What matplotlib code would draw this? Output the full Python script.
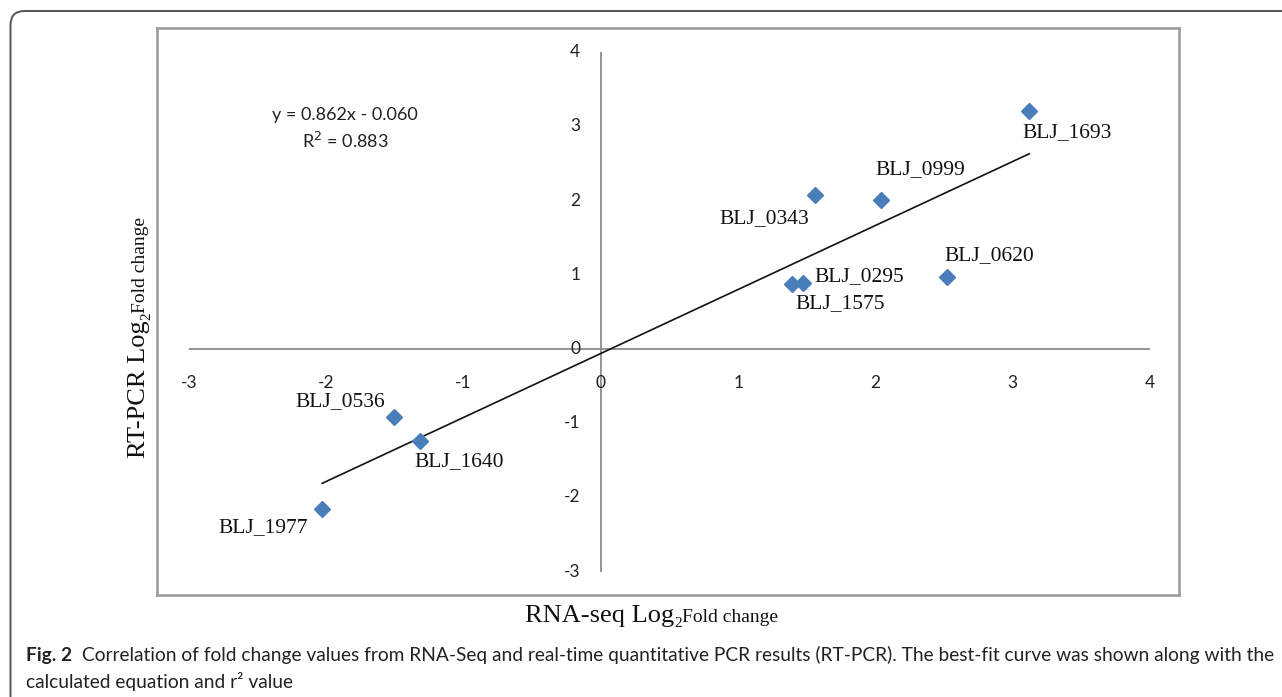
import matplotlib
matplotlib.use("Agg")
import matplotlib.pyplot as plt
from matplotlib.patches import FancyBboxPatch
import numpy as np

# gene points (RNA-seq log2FC, RT-PCR log2FC)
genes = ['BLJ_1693', 'BLJ_0999', 'BLJ_0343', 'BLJ_0620', 'BLJ_0295',
         'BLJ_1575', 'BLJ_0536', 'BLJ_1640', 'BLJ_1977']
rnaseq = [3.12, 2.04, 1.56, 2.52, 1.47, 1.39, -1.51, -1.32, -2.03]
rtpcr = [3.21, 2.01, 2.07, 0.97, 0.89, 0.88, -0.91, -1.24, -2.16]

# best-fit line as printed on the chart
slope = 0.862
intercept = -0.060
r2 = 0.883

ticks = [-3, -2, -1, 0, 1, 2, 3, 4]

# label offsets (pixels, from marker to left edge / text centre)
label_dx = [-7, -6, -96, -2, 12, 4, -98, -5, -104]
label_dy = [-22, 30, -23, 21, 6, -20, 15, -21, -18]

W, H = 1282, 697
fig = plt.figure(figsize=(W / 100, H / 100), dpi=100)

def fx(x):
    return x / W

def fy(y):
    return 1 - y / H

# outer frame (top and left side with rounded corner)
frame = FancyBboxPatch((fx(10.5), fy(720)), fx(1320 - 10.5), fy(11) - fy(720),
                       boxstyle="round,pad=0,rounding_size=0.011",
                       transform=fig.transFigure, fill=False,
                       edgecolor='#555555', linewidth=1.4, mutation_aspect=W / H)
fig.patches.append(frame)

ax = fig.add_axes([fx(157), fy(595), fx(1179 - 157), fy(28) - fy(595)])
ax.set_xlim(-3.233, 4.211)
ax.set_ylim(-3.314, 4.324)
for s in ax.spines.values():
    s.set_color('#999999')
    s.set_linewidth(1.8)
ax.set_xticks([])
ax.set_yticks([])

axis_col = '#8c8c8c'
ax.hlines(0, ticks[0], ticks[-1], color=axis_col, lw=1.3)
ax.vlines(0, ticks[0], ticks[-1], color=axis_col, lw=1.3)

tick_font = 'Lato'
for t in ticks:
    ax.text(t, -0.46, str(t), ha='center', va='center', fontsize=12.5,
            family=tick_font, color='#222222')
    ax.text(-0.15, t, str(t), ha='right', va='center', fontsize=12.5,
            family=tick_font, color='#222222')

# trend line
xs = np.array([min(rnaseq), max(rnaseq)])
ax.plot(xs, slope * xs + intercept, color='#111111', lw=1.2)

ax.plot(rnaseq, rtpcr, linestyle='none', marker='D', markersize=8,
        color='#4A7EBB', markeredgecolor='#4A7EBB')

for name, x, y, dx, dy in zip(genes, rnaseq, rtpcr, label_dx, label_dy):
    ax.annotate(name, (x, y), xytext=(dx, dy), textcoords='offset pixels',
                ha='left', va='center', fontsize=15.5,
                family='Liberation Serif', color='#111111')

eq = 'y = %.3fx - %.3f' % (slope, abs(intercept))
fig.text(fx(345), fy(115), eq, ha='center', va='center', fontsize=13,
         family=tick_font, color='#222222')
fig.text(fx(345), fy(141), 'R$^2$ = %.3f' % r2, ha='center', va='center',
         fontsize=13, family=tick_font, color='#222222')

fig.canvas.draw()
rend = fig.canvas.get_renderer()

# x axis title
serif = 'Liberation Serif'
t1 = fig.text(fx(525), fy(622), 'RNA-seq Log', ha='left', va='baseline',
              fontsize=19, family=serif, color='#111111')
fig.canvas.draw()
w1 = t1.get_window_extent(rend).width
t2 = fig.text(fx(525 + w1), fy(627), '2', ha='left', va='baseline',
              fontsize=11, family=serif, color='#111111')
fig.canvas.draw()
w2 = t2.get_window_extent(rend).width
fig.text(fx(525 + w1 + w2), fy(622), 'Fold change', ha='left', va='baseline',
         fontsize=14, family=serif, color='#111111')

# y axis title (rotated)
y0 = 458
r1 = fig.text(fx(145), fy(y0), 'RT-PCR Log', rotation=90, rotation_mode='anchor',
              ha='left', va='baseline', fontsize=19, family=serif, color='#111111')
fig.canvas.draw()
h1 = r1.get_window_extent(rend).height
r2t = fig.text(fx(150), fy(y0 - h1), '2', rotation=90, rotation_mode='anchor',
               ha='left', va='baseline', fontsize=11, family=serif, color='#111111')
fig.canvas.draw()
h2 = r2t.get_window_extent(rend).height
fig.text(fx(145), fy(y0 - h1 - h2), 'Fold change', rotation=90, rotation_mode='anchor',
         ha='left', va='baseline', fontsize=14, family=serif, color='#111111')

# caption
cap_font = 'Lato'
cap_rest = ('Correlation of fold change values from RNA-Seq and real-time quantitative '
            'PCR results (RT-PCR). The best-fit curve was shown along with the')
cap_line2 = 'calculated equation and r\u00b2 value'
size = 13
c1 = fig.text(fx(26), fy(661), 'Fig. 2', ha='left', va='baseline', fontsize=size,
              family=cap_font, weight='bold', color='#222222')
c2 = fig.text(0, fy(661), cap_rest, ha='left', va='baseline', fontsize=size,
              family=cap_font, color='#222222')
fig.canvas.draw()
total = c1.get_window_extent(rend).width + 10 + c2.get_window_extent(rend).width
size = size * (1276 - 26) / total
c1.set_fontsize(size)
c2.set_fontsize(size)
fig.canvas.draw()
c2.set_x(fx(26 + c1.get_window_extent(rend).width + size * 0.75))
fig.text(fx(26), fy(688), cap_line2, ha='left', va='baseline', fontsize=size,
         family=cap_font, color='#222222')

fig.savefig('out.png', dpi=100)
